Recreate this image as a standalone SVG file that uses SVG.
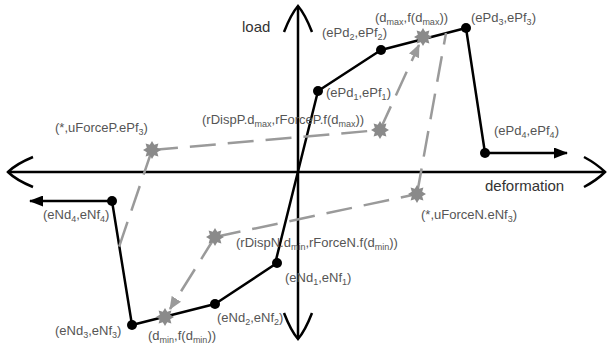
<svg xmlns="http://www.w3.org/2000/svg" xmlns:xlink="http://www.w3.org/1999/xlink" width="608" height="345" viewBox="0 0 608 345">
<style>
.axis{fill:none;stroke:#000;stroke-width:2.5}
.bb{fill:none;stroke:#000;stroke-width:2.5;stroke-linejoin:round}
.gd{fill:none;stroke:#9a9a9a;stroke-width:2.5;stroke-dasharray:26 12}
.dot{fill:#000}
.star{fill:#8a8a8a}
.lbl{font-family:"Liberation Sans",Arial,sans-serif;font-size:13px;fill:#555}
.ax{font-family:"Liberation Sans",Arial,sans-serif;font-size:15px;fill:#333}
.sub{font-size:9px}
</style>
<defs>
<path id="st" d="M0,-9 L2.2,-5.2 L6.4,-6.4 L5.2,-2.2 L9,0 L5.2,2.2 L6.4,6.4 L2.2,5.2 L0,9 L-2.2,5.2 L-6.4,6.4 L-5.2,2.2 L-9,0 L-5.2,-2.2 L-6.4,-6.4 L-2.2,-5.2 Z"/>
<marker id="ba" viewBox="0 0 14 11" refX="13" refY="5.5" markerWidth="14" markerHeight="11" markerUnits="userSpaceOnUse" orient="auto"><path d="M0,0 L14,5.5 L0,11 Z" fill="#000"/></marker>
<marker id="ga" viewBox="0 0 13 11" refX="12" refY="5.5" markerWidth="13" markerHeight="11" markerUnits="userSpaceOnUse" orient="auto"><path d="M0,0 L13,5.5 L0,11 Z" fill="#9a9a9a"/></marker>
</defs>
<g id="axes">
<line class="axis" x1="8" y1="172" x2="605" y2="172"/>
<line class="axis" x1="298" y1="6" x2="298" y2="339"/>
<path class="axis" d="M33,157 Q16,164 8,172 Q16,180 33,187"/>
<path class="axis" d="M584,157 Q597,164 605,172 Q597,180 584,187"/>
<path class="axis" d="M284,32 Q291,14 298,6 Q305,14 312,32"/>
<path class="axis" d="M284,313 Q291,331 298,339 Q305,331 312,313"/>
<text class="ax" x="242" y="32">load</text>
<text class="ax" x="485" y="191">deformation</text>
</g>
<g id="connectors">
<polyline class="bb" points="275,264 318,91 381,50 466,28 485,153"/>
<line class="bb" x1="485" y1="153" x2="567" y2="153" marker-end="url(#ba)"/>
<polyline class="bb" points="277,263 215,304 132,325 112,201"/>
<line class="bb" x1="112" y1="201" x2="30" y2="201" marker-end="url(#ba)"/>
<line class="gd" x1="152" y1="150" x2="380" y2="130"/>
<line class="gd" x1="380" y1="130" x2="419" y2="45" marker-end="url(#ga)"/>
<line class="gd" x1="152" y1="150" x2="119" y2="247"/>
<line class="gd" x1="215" y1="237" x2="417" y2="194"/>
<line class="gd" x1="215" y1="237" x2="170" y2="309" marker-end="url(#ga)"/>
<line class="gd" x1="417" y1="194" x2="446" y2="33"/>
</g>
<g id="ePd1"><circle class="dot" cx="318" cy="91" r="5"/><text class="lbl" x="326" y="97">(ePd<tspan class="sub" dy="3">1</tspan><tspan dy="-3">,ePf</tspan><tspan class="sub" dy="3">1</tspan><tspan dy="-3">)</tspan></text></g>
<g id="ePd2"><circle class="dot" cx="381" cy="50" r="5"/><text class="lbl" x="322" y="37">(ePd<tspan class="sub" dy="3">2</tspan><tspan dy="-3">,ePf</tspan><tspan class="sub" dy="3">2</tspan><tspan dy="-3">)</tspan></text></g>
<g id="ePd3"><circle class="dot" cx="466" cy="28" r="5"/><text class="lbl" x="471" y="22">(ePd<tspan class="sub" dy="3">3</tspan><tspan dy="-3">,ePf</tspan><tspan class="sub" dy="3">3</tspan><tspan dy="-3">)</tspan></text></g>
<g id="ePd4"><circle class="dot" cx="485" cy="153" r="5"/><text class="lbl" x="494" y="135">(ePd<tspan class="sub" dy="3">4</tspan><tspan dy="-3">,ePf</tspan><tspan class="sub" dy="3">4</tspan><tspan dy="-3">)</tspan></text></g>
<g id="eNd1"><circle class="dot" cx="277" cy="263" r="5"/><text class="lbl" x="285" y="282">(eNd<tspan class="sub" dy="3">1</tspan><tspan dy="-3">,eNf</tspan><tspan class="sub" dy="3">1</tspan><tspan dy="-3">)</tspan></text></g>
<g id="eNd2"><circle class="dot" cx="215" cy="304" r="5"/><text class="lbl" x="217" y="322">(eNd<tspan class="sub" dy="3">2</tspan><tspan dy="-3">,eNf</tspan><tspan class="sub" dy="3">2</tspan><tspan dy="-3">)</tspan></text></g>
<g id="eNd3"><circle class="dot" cx="132" cy="325" r="5"/><text class="lbl" x="55" y="335">(eNd<tspan class="sub" dy="3">3</tspan><tspan dy="-3">,eNf</tspan><tspan class="sub" dy="3">3</tspan><tspan dy="-3">)</tspan></text></g>
<g id="eNd4"><circle class="dot" cx="112" cy="201" r="5"/><text class="lbl" x="43" y="219">(eNd<tspan class="sub" dy="3">4</tspan><tspan dy="-3">,eNf</tspan><tspan class="sub" dy="3">4</tspan><tspan dy="-3">)</tspan></text></g>
<g id="dmax"><use xlink:href="#st" class="star" x="423" y="37"/><text class="lbl" x="375" y="22">(d<tspan class="sub" dy="3">max</tspan><tspan dy="-3">,f(d</tspan><tspan class="sub" dy="3">max</tspan><tspan dy="-3">))</tspan></text></g>
<g id="rDispP"><use xlink:href="#st" class="star" x="380" y="130"/><text class="lbl" x="202" y="124">(rDispP.d<tspan class="sub" dy="3">max</tspan><tspan dy="-3">,rForceP.f(d</tspan><tspan class="sub" dy="3">max</tspan><tspan dy="-3">))</tspan></text></g>
<g id="uForceP"><use xlink:href="#st" class="star" x="152" y="150"/><text class="lbl" x="55" y="132">(*,uForceP.ePf<tspan class="sub" dy="3">3</tspan><tspan dy="-3">)</tspan></text></g>
<g id="uForceN"><use xlink:href="#st" class="star" x="417" y="194"/><text class="lbl" x="421" y="219">(*,uForceN.eNf<tspan class="sub" dy="3">3</tspan><tspan dy="-3">)</tspan></text></g>
<g id="rDispN"><use xlink:href="#st" class="star" x="215" y="237"/><text class="lbl" x="236" y="247">(rDispN.d<tspan class="sub" dy="3">min</tspan><tspan dy="-3">,rForceN.f(d</tspan><tspan class="sub" dy="3">min</tspan><tspan dy="-3">))</tspan></text></g>
<g id="dmin"><use xlink:href="#st" class="star" x="165" y="317"/><text class="lbl" x="148" y="340">(d<tspan class="sub" dy="3">min</tspan><tspan dy="-3">,f(d</tspan><tspan class="sub" dy="3">min</tspan><tspan dy="-3">))</tspan></text></g>
</svg>
